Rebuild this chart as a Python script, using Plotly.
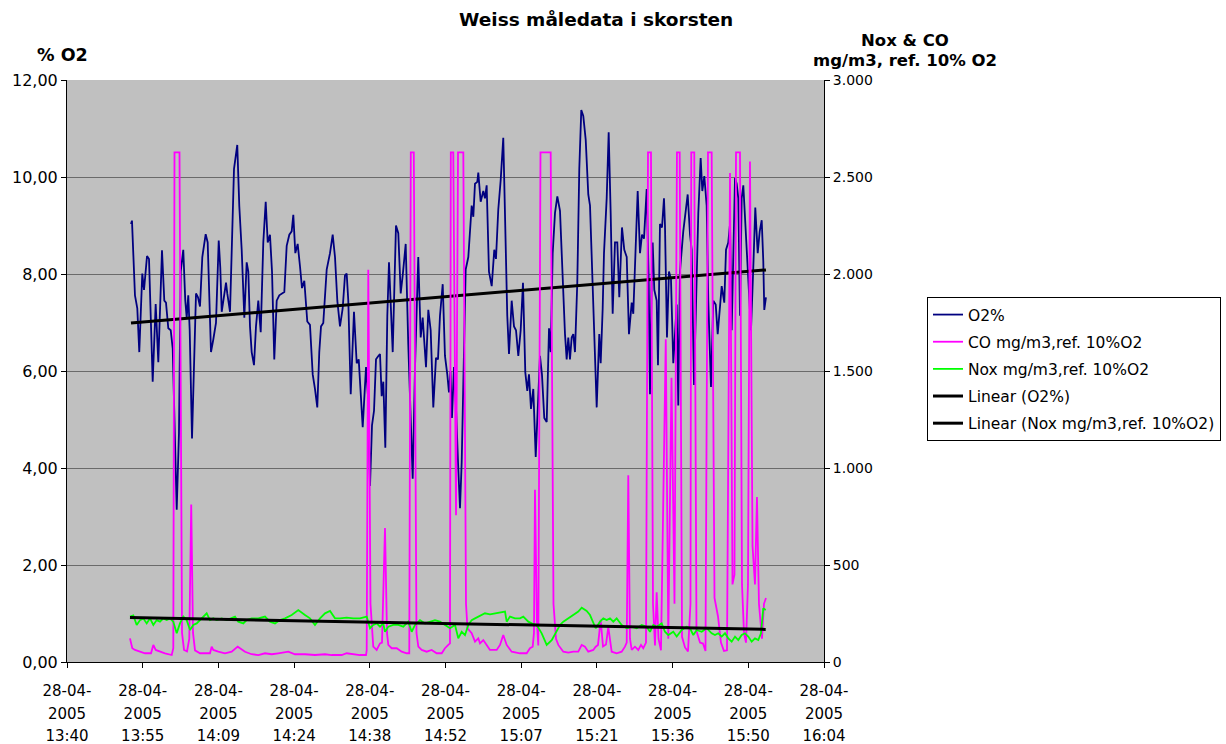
import numpy as np
import pandas as pd
import plotly.graph_objects as go

# ---------------- data (minutes after 13:40:48, 28-04-2005) ----------------
o2_min = [12.17, 12.36, 12.93, 13.37, 13.75, 14.32, 14.65, 15.22, 15.60, 16.30, 16.87, 17.37, 18.07, 18.51,
          18.83, 19.27, 19.73, 20.11, 20.87, 21.30, 21.63, 22.12, 22.50, 22.77, 23.07, 23.34, 23.78, 24.16,
          24.54, 24.92, 25.30, 25.74, 26.38, 26.76, 27.39, 27.83, 28.34, 28.86, 29.16, 29.43, 29.86, 30.25,
          30.49, 31.01, 31.77, 32.39, 32.77, 33.23, 33.73, 34.18, 34.49, 34.81, 35.13, 35.57, 35.95, 36.39,
          36.85, 37.34, 37.80, 38.18, 38.61, 39.00, 39.43, 39.89, 40.38, 40.84, 41.34, 41.79, 42.29, 42.74,
          43.05, 43.43, 43.88, 44.32, 44.70, 45.14, 45.71, 46.22, 46.74, 47.17, 47.61, 47.99, 48.32, 48.75,
          49.40, 50.03, 50.54, 50.98, 51.42, 51.93, 52.44, 52.88, 53.20, 53.51, 53.97, 54.59, 55.11, 55.49,
          55.87, 56.25, 56.88, 57.26, 57.64, 58.02, 58.40, 58.78, 59.22, 59.54, 59.86, 60.17, 60.55, 60.93,
          61.25, 61.57, 61.96, 62.26, 62.58, 63.02, 63.48, 63.86, 64.43, 64.92, 65.38, 65.76, 66.20, 66.82,
          67.28, 67.66, 67.91, 68.29, 68.73, 69.18, 69.68, 70.19, 70.57, 70.95, 71.47, 71.90, 72.34, 72.66,
          72.95, 73.23, 73.61, 74.00, 74.38, 74.76, 75.08, 75.52, 75.84, 76.34, 76.66, 76.98, 77.29, 77.61,
          78.05, 78.24, 78.69, 79.19, 79.51, 79.83, 80.27, 80.79, 81.28, 81.60, 82.04, 82.50, 82.99, 83.45,
          83.75, 84.08, 84.59, 85.03, 85.41, 85.85, 86.30, 86.74, 87.18, 87.56, 87.88, 88.26, 88.70, 89.16,
          89.59, 89.97, 90.35, 90.79, 91.25, 91.69, 92.01, 92.39, 92.83, 93.27, 93.78, 94.16, 94.54, 94.73,
          95.05, 95.36, 95.68, 96.00, 96.31, 96.63, 97.07, 97.45, 97.83, 98.21, 98.67, 99.16, 99.49, 100.11,
          100.76, 101.25, 101.52, 101.90, 102.15, 102.66, 103.04, 103.42, 103.80, 104.24, 104.68, 105.06,
          105.57, 106.01, 106.47, 106.90, 107.42, 107.72, 108.10, 108.56, 109.00, 109.38, 109.76, 110.27,
          110.65, 110.90, 111.22, 111.41, 111.72, 112.17, 112.42, 112.80, 113.18, 113.56, 113.75, 114.13,
          114.51, 114.89, 115.33, 115.98, 116.28, 116.60, 117.23, 117.69, 118.07, 118.51, 118.83, 119.27,
          119.65, 120.09, 120.54, 120.85, 121.23, 121.68, 121.99, 122.50, 122.94, 123.40, 123.78, 124.21,
          124.54, 125.03, 125.36, 125.79, 126.12, 126.44, 126.75, 127.07, 127.39, 127.70, 128.02, 128.34,
          128.65, 128.97, 129.48, 130.11, 130.55, 130.93, 131.39, 131.77, 132.15, 132.45, 132.64, 132.96]
o2_pct = [9.03, 9.10, 7.56, 7.29, 6.39, 8.01, 7.67, 8.37, 8.31, 5.78, 7.38, 6.18, 8.49, 7.45,
          7.41, 6.88, 6.84, 6.46, 3.14, 4.72, 8.05, 8.50, 7.45, 7.10, 7.56, 6.84, 4.61, 6.39,
          7.60, 7.52, 7.33, 8.35, 8.82, 8.65, 6.39, 6.65, 6.99, 8.69, 8.13, 7.22, 7.60, 7.82,
          7.60, 7.22, 10.17, 10.66, 9.41, 8.50, 7.10, 8.24, 8.05, 6.92, 6.39, 6.12, 6.92, 7.45,
          6.80, 8.65, 9.49, 8.65, 8.81, 8.05, 6.24, 7.45, 7.56, 7.60, 7.63, 8.58, 8.81, 8.88,
          9.22, 8.43, 8.62, 8.16, 7.71, 7.86, 7.02, 6.95, 5.93, 5.63, 5.25, 6.39, 6.92, 6.99,
          8.09, 8.43, 8.81, 8.35, 7.45, 6.92, 7.29, 7.97, 8.01, 7.45, 5.52, 7.22, 6.16, 6.24,
          5.48, 4.84, 6.08, 5.48, 3.63, 4.88, 5.18, 6.24, 6.31, 6.35, 5.48, 5.78, 4.42, 7.14,
          8.24, 7.29, 6.39, 7.67, 9.00, 8.84, 7.60, 7.97, 8.62, 6.54, 5.18, 3.78, 6.08, 8.35,
          6.69, 7.10, 6.69, 6.08, 7.26, 6.84, 5.25, 6.27, 6.24, 7.14, 7.79, 6.31, 5.93, 5.56,
          6.00, 5.03, 6.08, 5.25, 4.12, 3.17, 4.12, 6.39, 8.09, 8.35, 8.81, 9.41, 9.18, 9.86,
          9.90, 10.09, 9.49, 9.71, 9.56, 9.83, 8.05, 7.75, 8.50, 8.31, 9.33, 9.94, 10.81, 8.65,
          7.14, 6.35, 7.45, 6.92, 6.84, 6.31, 6.84, 7.82, 5.97, 5.59, 5.93, 5.22, 5.63, 4.23,
          5.33, 6.31, 5.93, 5.03, 4.95, 6.88, 6.39, 8.43, 9.26, 9.60, 9.30, 8.20, 7.14, 6.76,
          6.24, 6.69, 6.24, 6.69, 6.76, 6.39, 7.82, 10.17, 11.38, 11.26, 10.77, 9.64, 9.41, 7.29,
          5.25, 6.76, 6.16, 7.29, 8.43, 9.56, 10.92, 9.26, 7.18, 8.65, 8.65, 7.52,
          8.96, 8.50, 8.35, 6.76, 7.41, 7.18, 8.35, 9.71, 8.43, 8.81, 8.73, 9.75,
          7.90, 5.52, 7.90, 8.65, 7.67, 7.45, 6.12, 9.03, 8.96, 9.56, 9.00, 6.69,
          8.05, 7.90, 6.16, 7.37, 5.29, 8.05, 8.88, 9.26, 9.64, 8.81, 8.50, 5.71,
          7.45, 9.26, 10.39, 9.71, 10.02, 9.41, 7.45, 5.67, 7.45, 7.37, 6.76, 7.29,
          7.75, 7.41, 8.50, 8.65, 9.03, 6.84, 8.43, 9.98, 9.86, 9.56, 7.14, 9.56,
          9.83, 9.18, 8.35, 6.84, 8.13, 9.37, 8.43, 8.88, 9.11, 8.27, 7.26, 7.52]

co_min = [11.98, 12.42, 12.93, 13.89, 14.84, 15.98, 16.42, 16.87, 17.69, 18.64, 19.92, 20.22, 20.45, 21.40,
          21.88, 22.26, 22.83, 23.26, 23.63, 23.97, 24.35, 25.30, 26.25, 27.20, 27.52, 27.83, 28.78, 30.05,
          31.33, 32.47, 32.91, 33.86, 35.13, 36.39, 37.66, 38.94, 40.19, 42.10, 43.37, 45.27, 47.17, 49.08,
          50.35, 52.25, 53.20, 54.46, 55.73, 56.88, 57.01, 57.31, 57.73, 58.26, 58.91, 59.54, 59.92, 60.49,
          60.87, 61.12, 61.76, 62.72, 63.67, 64.62, 65.11, 65.40, 65.97, 66.48, 66.83, 67.47, 68.42, 69.37,
          70.32, 71.28, 71.90, 72.53, 72.85, 73.01, 73.48, 74.00, 74.38, 75.39, 75.90, 76.18, 76.98, 77.61,
          78.24, 78.56, 79.19, 79.83, 80.46, 81.74, 82.37, 82.99, 83.64, 84.59, 86.17, 87.44, 88.07, 88.59,
          88.83, 89.02, 89.40, 89.65, 90.07, 92.01, 92.54, 93.02, 93.46, 94.41, 95.36, 96.31, 97.26, 97.91,
          98.53, 99.16, 100.11, 100.57, 101.01, 101.52, 101.96, 102.53, 102.97, 103.61, 104.56, 105.51,
          106.14, 106.47, 106.77, 107.09, 107.42, 108.04, 108.67, 109.19, 109.62, 110.14, 110.52, 111.09,
          111.47, 111.85, 112.17, 112.52, 112.99, 113.90, 114.38, 114.99, 115.56, 116.03, 116.55, 116.99,
          117.56, 118.13, 118.60, 118.75, 119.32, 119.74, 120.41, 120.98, 121.46, 121.93, 122.63, 123.17,
          123.45, 123.83, 124.40, 124.97, 125.55, 126.12, 126.59, 126.97, 127.26, 128.02, 128.40, 128.78,
          129.16, 129.54, 129.92, 130.40, 130.87, 131.25, 131.63, 132.20, 132.58, 132.96]
co_mg = [122, 71, 62, 53, 45, 45, 88, 62, 53, 45, 36, 71, 2627, 2627,
         150, 62, 55, 120, 812, 150, 60, 45, 45, 45, 79, 62, 53, 45,
         53, 79, 71, 53, 40, 36, 45, 40, 45, 53, 40, 40, 36, 40,
         36, 36, 45, 40, 36, 36, 60, 2022, 300, 79, 62, 96, 100, 690,
         150, 88, 71, 71, 53, 45, 45, 2627, 2627, 150, 79, 62, 53, 62,
         45, 45, 71, 88, 96, 2627, 2627, 756, 2627, 2627, 300, 174, 148, 105,
         122, 96, 113, 88, 62, 62, 88, 139, 88, 53, 45, 45, 71, 79,
         150, 888, 200, 85, 2627, 2627, 300, 120, 88, 53, 48, 53, 53, 88,
         79, 53, 62, 79, 88, 217, 80, 90, 180, 53, 45, 53,
         79, 100, 963, 120, 62, 79, 62, 88, 71, 100, 2627, 2627,
         300, 85, 359, 120, 60, 1663, 120, 1465, 300, 2627, 2627, 130,
         75, 55, 300, 2627, 2627, 160, 100, 95, 57, 2627, 2627, 330,
         293, 236, 100, 57, 60, 2520, 400, 450, 2627, 2627, 400, 150,
         100, 400, 2580, 600, 400, 850, 300, 120, 300, 330]

nox_min = [11.98, 12.61, 13.26, 13.89, 14.51, 15.16, 15.79, 16.42, 17.06, 17.69, 18.32, 18.97, 19.59, 20.22,
           20.87, 21.49, 22.12, 22.77, 23.40, 24.02, 24.67, 25.30, 25.93, 26.57, 27.20, 27.83, 28.48, 29.43,
           30.38, 31.33, 31.96, 32.58, 33.54, 34.18, 35.13, 36.39, 37.66, 38.61, 39.57, 40.52, 41.47, 42.74,
           44.00, 45.27, 46.22, 47.17, 48.13, 49.08, 50.03, 50.98, 51.93, 53.20, 54.46, 55.73, 57.01, 57.64,
           58.26, 58.91, 59.54, 60.17, 60.49, 61.12, 62.07, 63.02, 63.97, 64.92, 65.57, 66.20, 67.15, 68.10,
           69.05, 70.00, 70.95, 71.90, 72.85, 73.81, 74.43, 75.08, 75.71, 76.34, 76.98, 77.61, 78.24, 78.89,
           79.51, 80.46, 81.41, 82.37, 83.32, 83.64, 84.27, 85.22, 86.17, 86.80, 87.75, 88.40, 89.35, 90.30,
           91.25, 92.20, 93.15, 93.78, 94.41, 95.36, 96.31, 97.26, 97.91, 98.86, 99.49, 100.11, 100.57, 101.39,
           102.02, 102.66, 103.29, 103.92, 104.56, 105.51, 106.47, 107.42, 108.37, 109.32, 110.27, 110.90,
           111.53, 112.17, 113.12, 113.75, 114.38, 115.33, 115.98, 116.93, 117.88, 118.51, 119.14, 119.78,
           120.73, 121.68, 122.63, 123.26, 123.89, 124.54, 125.17, 125.79, 126.44, 127.07, 127.70, 128.34,
           128.97, 129.60, 130.24, 130.87, 131.50, 132.01, 132.45, 132.91]
nox_mg = [234, 240, 191, 216, 225, 199, 225, 191, 216, 208, 225, 216, 225, 208,
          148, 199, 234, 216, 165, 191, 199, 216, 234, 251, 216, 225, 216, 225,
          216, 225, 234, 208, 199, 216, 225, 225, 234, 208, 199, 216, 225, 242,
          268, 242, 225, 191, 225, 251, 263, 225, 225, 229, 225, 225, 234, 174,
          191, 199, 182, 199, 156, 182, 191, 191, 182, 208, 156, 191, 216, 199,
          208, 216, 208, 191, 174, 191, 122, 156, 139, 191, 216, 225, 234, 242,
          251, 246, 251, 256, 260, 208, 234, 225, 225, 234, 208, 199, 191, 148,
          88, 113, 165, 191, 208, 225, 242, 260, 280, 263, 242, 208, 174, 208,
          225, 216, 225, 208, 225, 191, 174, 182, 174, 191, 182, 156,
          191, 182, 199, 156, 139, 156, 131, 165, 182, 174, 139, 165,
          156, 174, 148, 139, 148, 131, 148, 122, 105, 131, 113, 139,
          148, 131, 105, 122, 113, 148, 277, 268]

tick_times = ["13:40", "13:55", "14:09", "14:24", "14:38", "14:52", "15:07", "15:21", "15:36", "15:50", "16:04"]
tick_day = "28-04-"
tick_year = "2005"
o2_ticks = [0, 2, 4, 6, 8, 10, 12]
o2_ticktext = ["0,00", "2,00", "4,00", "6,00", "8,00", "10,00", "12,00"]
mg_ticks = [0, 500, 1000, 1500, 2000, 2500, 3000]
mg_ticktext = ["0", "500", "1.000", "1.500", "2.000", "2.500", "3.000"]

# ---------------- build ----------------
base = pd.Timestamp("2005-04-28 13:40:48")
def tstamp(mins):
    return [base + pd.Timedelta(minutes=float(m)) for m in mins]

o2_x = tstamp(o2_min)
co_x = tstamp(co_min)
nox_x = tstamp(nox_min)
tickvals = tstamp([14.4 * k for k in range(len(tick_times))])
x_range = [tickvals[0], tickvals[-1]]

# linear trendlines (least squares on the time values)
p_o2 = np.polyfit(np.array(o2_min), np.array(o2_pct), 1)
p_nox = np.polyfit(np.array(nox_min), np.array(nox_mg), 1)
o2_tr_m = [o2_min[0], o2_min[-1]]
nox_tr_m = [nox_min[0], nox_min[-1]]

FONT = "DejaVu Sans"
fig = go.Figure()
fig.add_trace(go.Scatter(x=o2_x, y=o2_pct, mode="lines", name="O2%", legendgroup="a",
                         line=dict(color="#000080", width=1.8)))
fig.add_trace(go.Scatter(x=co_x, y=co_mg, mode="lines", name="CO mg/m3,ref. 10%O2", legendgroup="b",
                         line=dict(color="#FF00FF", width=1.8), yaxis="y2"))
fig.add_trace(go.Scatter(x=nox_x, y=nox_mg, mode="lines", name="Nox mg/m3,ref. 10%O2", legendgroup="c",
                         line=dict(color="#00FF00", width=1.8), yaxis="y2"))
fig.add_trace(go.Scatter(x=tstamp(o2_tr_m), y=list(np.polyval(p_o2, o2_tr_m)), mode="lines",
                         name="Linear (O2%)", legendgroup="d", line=dict(color="black", width=3)))
fig.add_trace(go.Scatter(x=tstamp(nox_tr_m), y=list(np.polyval(p_nox, nox_tr_m)), mode="lines",
                         name="Linear (Nox mg/m3,ref. 10%O2)", legendgroup="e",
                         line=dict(color="black", width=3), yaxis="y2"))
# helper traces so the extra label axes are drawn
for ax in ("x2", "x3"):
    fig.add_trace(go.Scatter(x=[tickvals[0]], y=[None], xaxis=ax, showlegend=False, hoverinfo="skip"))

xfont = dict(family=FONT, size=15, color="black")
common_x = dict(type="date", range=x_range, tickmode="array", tickvals=tickvals, showgrid=False,
                zeroline=False, tickfont=xfont, automargin=False)
fig.update_layout(
    width=1226, height=744,
    margin=dict(l=67, r=402, t=80, b=82, autoexpand=False),
    paper_bgcolor="white", plot_bgcolor="#C0C0C0",
    font=dict(family=FONT, size=14, color="black"),
    showlegend=True,
    xaxis=dict(**common_x, ticktext=[tick_day] * len(tick_times), showline=True, linecolor="black",
               linewidth=1, ticks="outside", ticklen=5, tickcolor="black", anchor="y",
               ticklabelstandoff=10),
    xaxis2=dict(**common_x, ticktext=[tick_year] * len(tick_times), overlaying="x", anchor="y",
                showline=False, ticks="", ticklabelstandoff=41),
    xaxis3=dict(**common_x, ticktext=tick_times, overlaying="x", anchor="y",
                showline=False, ticks="", ticklabelstandoff=63),
    yaxis=dict(range=[0, 12], tickmode="array", tickvals=o2_ticks, ticktext=o2_ticktext,
               showgrid=True, gridcolor="#6a6a6a", gridwidth=1, zeroline=False, automargin=False,
               showline=True, linecolor="black", linewidth=1, ticks="outside", ticklen=5,
               tickcolor="black", tickfont=dict(family=FONT, size=16, color="black")),
    yaxis2=dict(range=[0, 3000], tickmode="array", tickvals=mg_ticks, ticktext=mg_ticktext,
                overlaying="y", side="right", showgrid=False, zeroline=False, automargin=False,
                showline=True, linecolor="black", linewidth=1, ticks="outside", ticklen=5,
                tickcolor="black", tickfont=dict(family=FONT, size=14, color="black")),
    legend=dict(x=(927 - 67) / 757, y=(662 - 297) / 582, xanchor="left", yanchor="top",
                bgcolor="white", bordercolor="black", borderwidth=1,
                font=dict(family=FONT, size=15.5, color="black"), tracegroupgap=4),
    annotations=[
        dict(text="<b>Weiss måledata i skorsten</b>", x=(596 - 67) / 757, y=(662 - 20) / 582,
             xref="paper", yref="paper", xanchor="center", yanchor="middle", showarrow=False,
             font=dict(family=FONT, size=18.5)),
        dict(text="<b>% O2</b>", x=(62 - 67) / 757, y=(662 - 55) / 582,
             xref="paper", yref="paper", xanchor="center", yanchor="middle", showarrow=False,
             font=dict(family=FONT, size=17.5)),
        dict(text="<b>Nox & CO</b>", x=(905 - 67) / 757, y=(662 - 40) / 582,
             xref="paper", yref="paper", xanchor="center", yanchor="middle", showarrow=False,
             font=dict(family=FONT, size=16.5)),
        dict(text="<b>mg/m3, ref. 10% O2</b>", x=(905 - 67) / 757, y=(662 - 61) / 582,
             xref="paper", yref="paper", xanchor="center", yanchor="middle", showarrow=False,
             font=dict(family=FONT, size=16.5)),
    ],
)
fig.write_html("out.html")
